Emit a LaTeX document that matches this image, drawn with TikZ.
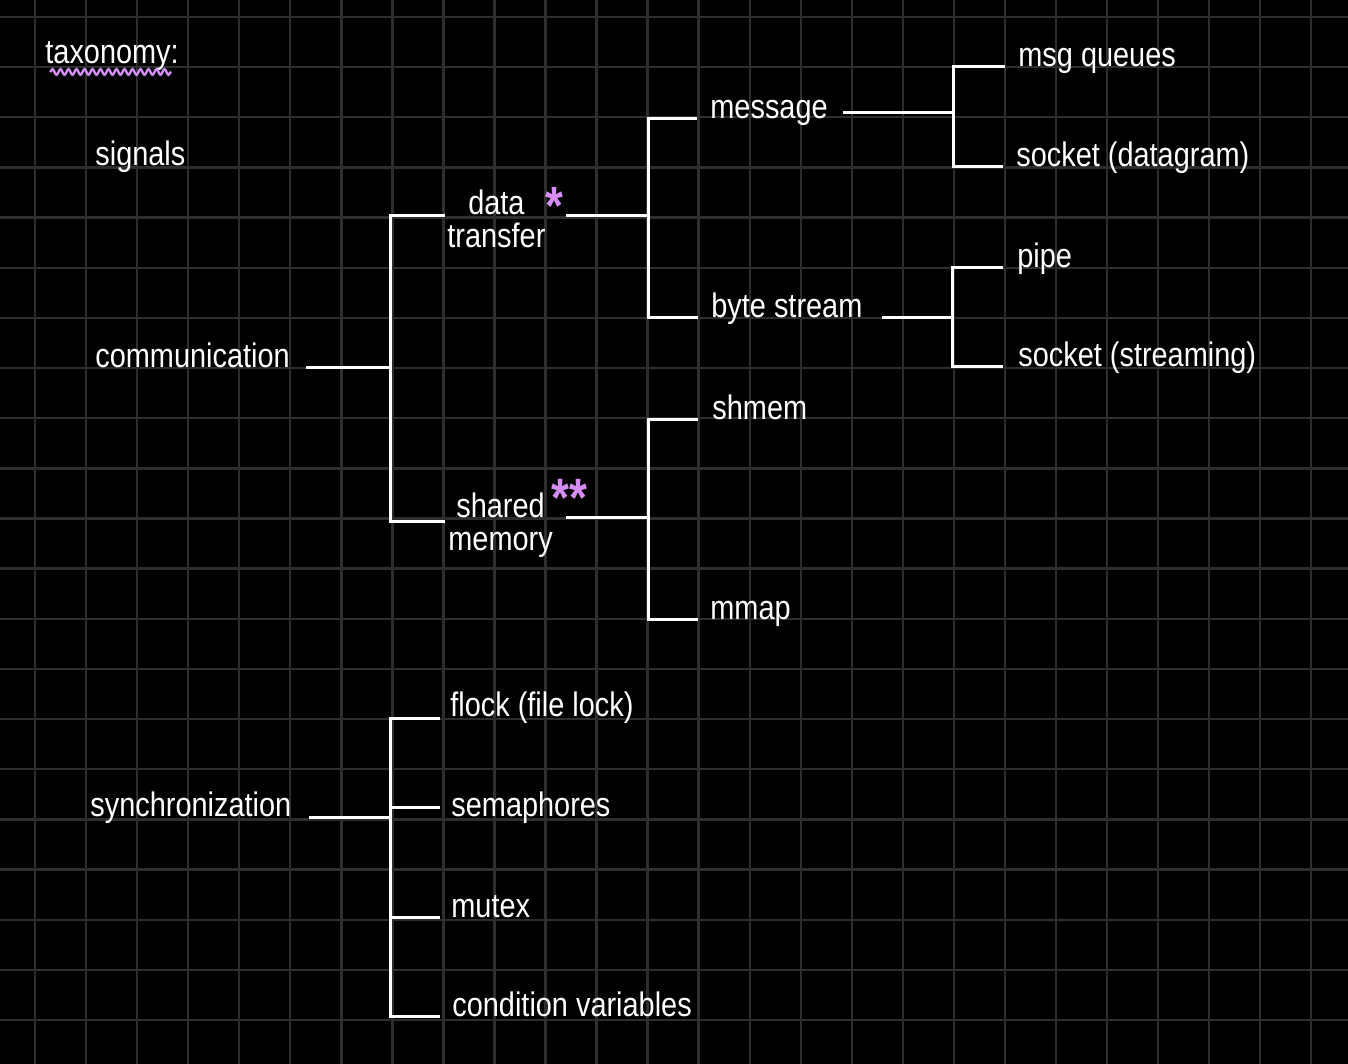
\documentclass[tikz,border=0pt]{standalone}
\usepackage{fontspec}
\setmainfont{Liberation Sans}[FakeStretch=0.85]
\usetikzlibrary{decorations.pathmorphing}

\definecolor{inkpurple}{RGB}{214,140,245}
\definecolor{gridgray}{RGB}{46,46,46}
\newcommand{\handfont}{\fontsize{17}{16.5}\selectfont}

\begin{document}
\begin{tikzpicture}[%
        x = 0.5pt, y = -0.5pt,
        gridline/.style = {gridgray, line width = 1.2pt},
        branch/.style = {white, line width = 1.5pt},
        entry/.style = {%
            anchor = base west,
            text = white,
            inner sep = 0pt,
            font = \handfont
        },
        starmark/.style = {%
            anchor = north,
            text = inkpurple,
            inner sep = 0pt,
            text depth = -0.33em,
            font = \fontsize{27}{27}\selectfont\bfseries
        },
        squiggle/.style = {%
            inkpurple, line width = 1.2pt,
            decorate,
            decoration = {snake, amplitude = 1.4pt, segment length = 4pt}
        }
    ]

        % The black page and its grid.
        \useasboundingbox (0,0) rectangle (1348,1064);
        \fill[black] (0,0) rectangle (1348,1064);
        \begin{scope}
            \clip (0,0) rectangle (1348,1064);
            \foreach\gx in {0,...,25}{%
                \draw[gridline] ({35+51.05*\gx},0) -- ({35+51.05*\gx},1064);
            }
            \foreach\gy in {0,...,20}{%
                \draw[gridline] (0,{17+50.15*\gy}) -- (1348,{17+50.15*\gy});
            }
        \end{scope}

        % The heading and the roots.
        \node[entry] (tax) at (45,64) {taxonomy:};
        \node[entry] (sig) at (95,166) {signals};
        \node[entry] (comm) at (95,367) {communication};
        \node[entry] (sync) at (90,816) {synchronization};
        \draw[squiggle] ([xshift = 2.5pt, yshift = -4pt]tax.base west) -- ([xshift = -4pt, yshift = -4pt]tax.base east);

        % The second level (the base is the lower line).
        \node[entry, align = center] (dt) at (447,248) {data\\transfer};
        \node[entry, align = center] (sm) at (448,550) {shared\\memory};
        \node[starmark] (dtstar) at (554,187) {*};
        \node[starmark] (smstar) at (569,479) {**};

        % The third level.
        \node[entry] (msg) at (710,119) {message};
        \node[entry] (bs) at (711,317) {byte stream};
        \node[entry] (shm) at (712,419) {shmem};
        \node[entry] (mmap) at (710,619) {mmap};

        % The leaves.
        \node[entry] (mq) at (1018,67) {msg queues};
        \node[entry] (sd) at (1016,167) {socket (datagram)};
        \node[entry] (pipe) at (1017,267) {pipe};
        \node[entry] (ss) at (1018,366) {socket (streaming)};

        % The synchronization leaves.
        \node[entry] (flock) at (450,716) {flock (file lock)};
        \node[entry] (sem) at (451,816) {semaphores};
        \node[entry] (mutex) at (451,917) {mutex};
        \node[entry] (cv) at (452,1016) {condition variables};

        % The junctions of the brackets.
        \coordinate (jcomm) at (390,367);
        \coordinate (jdt) at (648,216);
        \coordinate (jsm) at (648,517);
        \coordinate (jsmin) at (390,521);
        \coordinate (jmsg) at (953,113);
        \coordinate (jbs) at (952,317);
        \coordinate (jsync) at (390,817);

        % Brackets for communication.
        \draw[branch, shorten <= 8pt] (comm.base east |- jcomm) -- (jcomm);
        \draw[branch, shorten >= 1pt] (jcomm) |- (dt.west |- jdt);
        \draw[branch, shorten >= 1.5pt] (jcomm) |- (sm.west |- jsmin);

        \draw[branch, shorten <= 10pt] (dt.east |- jdt) -- (jdt);
        \draw[branch, shorten >= 6.5pt] (jdt) |- (msg.base west);
        \draw[branch, shorten >= 6.5pt] (jdt) |- (bs.base west);

        \draw[branch, shorten <= 6.5pt] (sm.east |- jsm) -- (jsm);
        \draw[branch, shorten >= 7pt] (jsm) |- (shm.base west);
        \draw[branch, shorten >= 6pt] (jsm) |- (mmap.base west);

        \draw[branch, shorten <= 7.5pt] (msg.base east |- jmsg) -- (jmsg);
        \draw[branch, shorten >= 6.5pt] (jmsg) |- (mq.base west);
        \draw[branch, shorten >= 6.5pt] (jmsg) |- (sd.base west);

        \draw[branch, shorten <= 9.5pt] (bs.base east |- jbs) -- (jbs);
        \draw[branch, shorten >= 7pt] (jbs) |- (pipe.base west);
        \draw[branch, shorten >= 7.5pt] (jbs) |- (ss.base west);

        % Brackets for synchronization.
        \draw[branch, shorten <= 8.5pt] (sync.base east |- jsync) -- (jsync);
        \draw[branch, shorten >= 5pt] (jsync) |- ([yshift = -1pt]flock.base west);
        \draw[branch, shorten >= 5.5pt] (jsync) |- ([yshift = 4.5pt]sem.base west);
        \draw[branch, shorten >= 5.5pt] (jsync) |- (mutex.base west);
        \draw[branch, shorten >= 6pt] (jsync) |- (cv.base west);
    \end{tikzpicture}
\end{document}
